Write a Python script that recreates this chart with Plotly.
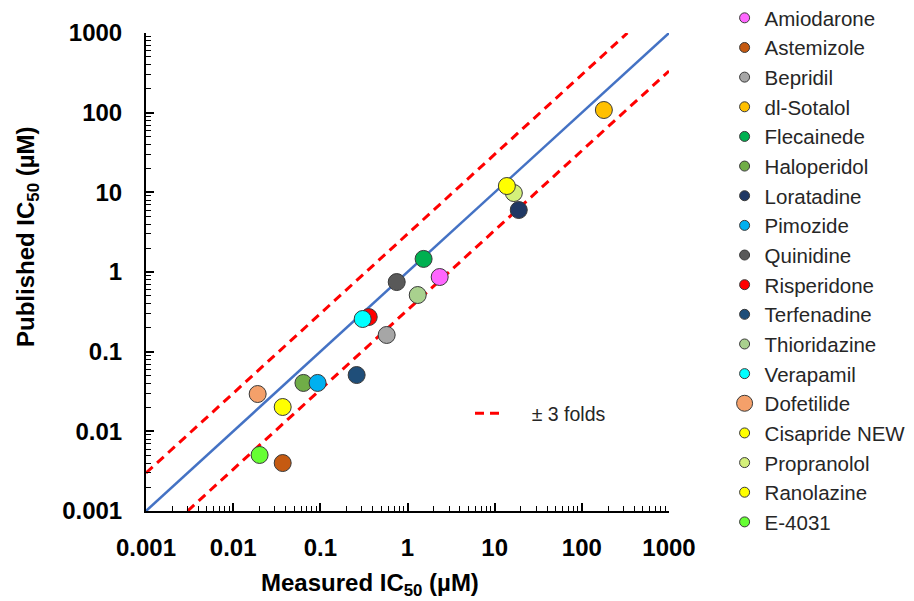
import plotly.graph_objects as go

# ---------------- data ----------------
compounds = ["Amiodarone", "Astemizole", "Bepridil", "dl-Sotalol", "Flecainede",
             "Haloperidol", "Loratadine", "Pimozide", "Quinidine", "Risperidone",
             "Terfenadine", "Thioridazine", "Verapamil", "Dofetilide", "Cisapride NEW",
             "Propranolol", "Ranolazine", "E-4031"]
measured_ic50 = [2.34, 0.037, 0.577, 179, 1.53,
                 0.064, 18.9, 0.093, 0.752, 0.359,
                 0.261, 1.31, 0.306, 0.0191, 0.037,
                 16.6, 13.8, 0.0201]
published_ic50 = [0.865, 0.0040, 0.162, 108, 1.46,
                  0.0405, 6.0, 0.0405, 0.748, 0.272,
                  0.0509, 0.514, 0.257, 0.0294, 0.0202,
                  9.8, 12.0, 0.00505]
colors = ["#FF66FF", "#C55A11", "#A6A6A6", "#FFC000", "#00B050",
          "#70AD47", "#203864", "#00B0F0", "#595959", "#FF0000",
          "#1F4E79", "#A9D18E", "#00FFFF", "#F4A06A", "#FFFF00",
          "#D4F07A", "#FFFF00", "#66FF33"]
legend_marker_sizes = [10, 10, 10, 10, 10, 10, 10, 10, 10, 10,
                       10, 10, 10, 16, 10, 10, 10, 10]

fold = 3
identity_x = [0.001, 1000]
upper_x = [0.001, 1000 / fold]
lower_x = [0.001 * fold, 1000]

tick_vals = [0.001, 0.01, 0.1, 1, 10, 100, 1000]
tick_text = ["0.001", "0.01", "0.1", "1", "10", "100", "1000"]
minor_vals = [d * m for d in tick_vals[:-1] for m in range(2, 10)]

FONT = "Liberation Sans, Arial, sans-serif"
NB = "\u00a0"

fig = go.Figure()

# reference lines
fig.add_trace(go.Scatter(x=identity_x, y=identity_x, mode="lines",
                         line=dict(color="#4472C4", width=2.5),
                         showlegend=False, hoverinfo="skip"))
fig.add_trace(go.Scatter(x=upper_x, y=[v * fold for v in upper_x], mode="lines",
                         line=dict(color="#FF0000", width=3, dash="9px,6px"),
                         name=NB * 4 + "± 3 folds", legend="legend2", showlegend=True,
                         hoverinfo="skip"))
fig.add_trace(go.Scatter(x=lower_x, y=[v / fold for v in lower_x], mode="lines",
                         line=dict(color="#FF0000", width=3, dash="9px,6px"),
                         showlegend=False, hoverinfo="skip"))

# compounds (plotted points)
for name, xv, yv, c in zip(compounds, measured_ic50, published_ic50, colors):
    fig.add_trace(go.Scatter(
        x=[xv], y=[yv], mode="markers", name=name, legendgroup=name,
        showlegend=False,
        marker=dict(size=17, color=c, line=dict(color="#3a3a3a", width=1)),
    ))

# legend entries (small symbols as in the reference)
for name, c, s in zip(compounds, colors, legend_marker_sizes):
    fig.add_trace(go.Scatter(
        x=[None], y=[None], mode="markers", name=name, legendgroup=name,
        showlegend=True,
        marker=dict(size=s, color=c, line=dict(color="#3a3a3a", width=1)),
    ))

axis_common = dict(
    type="log", range=[-3, 3],
    tickmode="array", tickvals=tick_vals, ticktext=tick_text,
    ticks="inside", ticklen=8, tickwidth=1.5, tickcolor="black",
    showline=True, linecolor="black", linewidth=2,
    showgrid=False, zeroline=False,
    tickfont=dict(family=FONT, size=24, color="black", weight="bold"),
    minor=dict(tickmode="array", tickvals=minor_vals, ticks="inside",
               ticklen=5, tickwidth=1, tickcolor="black", showgrid=False),
)

fig.update_xaxes(**axis_common, ticklabelstandoff=14)
fig.update_yaxes(**axis_common, ticklabelstandoff=17)

fig.update_layout(
    width=914, height=601,
    margin=dict(l=146, r=245, t=33, b=90, autoexpand=False),
    paper_bgcolor="white", plot_bgcolor="white",
    font=dict(family=FONT, color="black"),
    legend=dict(
        font=dict(family=FONT, size=20.5, color="#262626"),
        itemsizing="trace", tracegroupgap=0, traceorder="normal",
        maxheight=1.0,
        x=(724.6 - 146) / 523, y=1 + 35 / 478, xanchor="left", yanchor="top",
        bgcolor="rgba(0,0,0,0)",
    ),
    legend2=dict(
        font=dict(family=FONT, size=19.5, color="#262626"),
        x=(470 - 146) / 523, y=0.204, xanchor="left", yanchor="middle",
        bgcolor="rgba(0,0,0,0)",
    ),
    annotations=[
        dict(text="<b>Measured IC<sub>50</sub> (µM)</b>", xref="paper", yref="paper",
             x=(370 - 146) / 523, y=-(584 - 511) / 478, xanchor="center", yanchor="middle",
             showarrow=False, font=dict(family=FONT, size=24, color="black")),
        dict(text="<b>Published IC<sub>50</sub> (µM)</b>", xref="paper", yref="paper",
             x=(27 - 146) / 523, y=(511 - 237) / 478, xanchor="center", yanchor="middle",
             textangle=-90, showarrow=False,
             font=dict(family=FONT, size=24, color="black")),
    ],
)

fig.write_html("out.html", config={"displayModeBar": False},
               post_script="document.body.style.margin='0px';")
